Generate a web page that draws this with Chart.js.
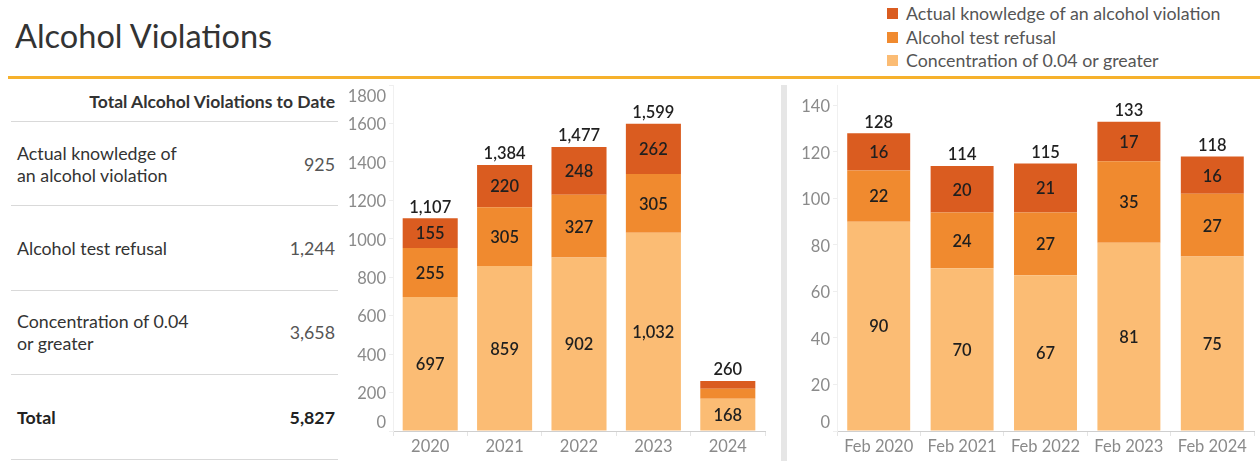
<!DOCTYPE html>
<html>
<head>
<meta charset="utf-8">
<script src="https://cdn.jsdelivr.net/npm/chart.js@4.4.1/dist/chart.umd.min.js"></script>
<style>
  html, body { margin: 0; padding: 0; background: #fff; }
  body { width: 1260px; height: 461px; position: relative; overflow: hidden; font-family: Lato, "Noto Sans", sans-serif; }
  #title { position: absolute; left: 15px; top: 14px; font-size: 32.5px; color: #333; line-height: 44px; white-space: nowrap; }
  #rule { position: absolute; left: 8px; top: 76px; width: 1252px; height: 3px; background: #F6B12C; }
  #legend { position: absolute; left: 886px; top: 3px; }
  .lg { position: absolute; left: 0; white-space: nowrap; font-size: 17.8px; color: #555; height: 20px; line-height: 20px; }
  .lg span.sw { position: absolute; left: 1px; top: 5px; width: 11px; height: 11px; }
  .lg span.tx { position: absolute; left: 20px; top: 0; }
  #table { position: absolute; left: 11px; top: 84px; width: 327px; }
  .hdr { position: absolute; right: 3px; top: 7px; font-weight: bold; font-size: 17.5px; color: #333; white-space: nowrap; }
  .hline { position: absolute; left: 0; width: 327px; height: 1px; background: #d9d9d9; }
  .rl { position: absolute; left: 6px; font-size: 17.8px; color: #333; line-height: 22px; white-space: nowrap; }
  .rv { position: absolute; right: 3px; font-size: 17.8px; color: #555; line-height: 22px; white-space: nowrap; }
  .bold { font-weight: bold; color: #222; }
  #sep { position: absolute; left: 781px; top: 85px; width: 6px; height: 376px; background: #e6e6e6; }
  #c1wrap { position: absolute; left: 340px; top: 80px; width: 430px; height: 381px; }
  #c2wrap { position: absolute; left: 788px; top: 80px; width: 472px; height: 381px; }
</style>
</head>
<body>
<div id="title">Alcohol Violations</div>
<div id="legend"></div>
<div id="rule"></div>
<div id="table"></div>
<div id="sep"></div>
<div id="c1wrap"><canvas id="c1" width="430" height="381"></canvas></div>
<div id="c2wrap"><canvas id="c2" width="472" height="381"></canvas></div>
<script>
// ---------- data ----------
const seriesNames = ["Concentration of 0.04 or greater", "Alcohol test refusal", "Actual knowledge of an alcohol violation"];
const seriesColors = ["#FBBC74", "#F08A2F", "#DA5C20"];
const tableLabels = [["Actual knowledge of", "an alcohol violation"], ["Alcohol test refusal"], ["Concentration of 0.04", "or greater"]];

const yearCategories = ["2020", "2021", "2022", "2023", "2024"];
const yearConcentration = [697, 859, 902, 1032, 168];
const yearRefusal = [255, 305, 327, 305, 52];
const yearKnowledge = [155, 220, 248, 262, 40];

const febCategories = ["Feb 2020", "Feb 2021", "Feb 2022", "Feb 2023", "Feb 2024"];
const febConcentration = [90, 70, 67, 81, 75];
const febRefusal = [22, 24, 27, 35, 27];
const febKnowledge = [16, 20, 21, 17, 16];

const yearTicks = [0, 200, 400, 600, 800, 1000, 1200, 1400, 1600, 1800];
const febTicks = [0, 20, 40, 60, 80, 100, 120, 140];

const fmt = v => v.toLocaleString("en-US");
const sum = a => a.reduce((s, v) => s + v, 0);

// ---------- legend ----------
const legend = document.getElementById("legend");
[2, 1, 0].forEach((si, row) => {
  const d = document.createElement("div");
  d.className = "lg";
  d.style.top = (row * 23.5) + "px";
  d.innerHTML = '<span class="sw" style="background:' + seriesColors[si] + '"></span><span class="tx">' + seriesNames[si] + '</span>';
  legend.appendChild(d);
});

// ---------- table ----------
const table = document.getElementById("table");
const totals = [sum(yearKnowledge), sum(yearRefusal), sum(yearConcentration)];
let html = '<div class="hdr">Total Alcohol Violations to Date</div>';
const lineYs = [37, 121, 206, 290, 375];
lineYs.forEach(y => { html += '<div class="hline" style="top:' + y + 'px"></div>'; });
const rowCenters = [80, 164, 248, 333];
tableLabels.forEach((lines, i) => {
  const c = rowCenters[i];
  const top = c - lines.length * 11;
  html += '<div class="rl" style="top:' + top + 'px">' + lines.join("<br>") + '</div>';
  html += '<div class="rv" style="top:' + (c - 11) + 'px">' + fmt(totals[i]) + '</div>';
});
html += '<div class="rl bold" style="top:' + (rowCenters[3] - 11) + 'px">Total</div>';
html += '<div class="rv bold" style="top:' + (rowCenters[3] - 11) + 'px">' + fmt(sum(totals)) + '</div>';
table.innerHTML = html;

// ---------- charts ----------
Chart.defaults.font.family = "Lato, 'Noto Sans', sans-serif";

const labelPlugin = {
  id: "barLabels",
  afterDatasetsDraw(chart) {
    const ctx = chart.ctx;
    ctx.save();
    ctx.font = "600 16.5px Lato, 'Noto Sans', sans-serif";
    ctx.fillStyle = "#1f1f1f";
    ctx.textAlign = "center";
    ctx.textBaseline = "middle";
    const n = chart.data.datasets.length;
    chart.data.datasets.forEach((ds, di) => {
      const meta = chart.getDatasetMeta(di);
      meta.data.forEach((bar, i) => {
        const p = bar.getProps(["x", "y", "base"], true);
        const h = p.base - p.y;
        if (h >= 20) ctx.fillText(fmt(ds.data[i]), p.x, (p.y + p.base) / 2 + 1);
      });
    });
    const topMeta = chart.getDatasetMeta(n - 1);
    topMeta.data.forEach((bar, i) => {
      const p = bar.getProps(["x", "y"], true);
      let t = 0;
      chart.data.datasets.forEach(ds => { t += ds.data[i]; });
      ctx.fillText(fmt(t), p.x, p.y - 11);
    });
    ctx.restore();
  }
};

function noPad(s) { s.paddingTop = 0; s.paddingBottom = 0; s.paddingLeft = 0; s.paddingRight = 0; }

function makeChart(id, cats, conc, refu, know, ticks, yMax, yWidth, padRight, barPct) {
  const dataArr = [conc, refu, know];
  return new Chart(document.getElementById(id), {
    type: "bar",
    data: {
      labels: cats,
      datasets: dataArr.map((d, i) => ({
        label: seriesNames[i],
        data: d,
        backgroundColor: seriesColors[i],
        borderWidth: 0,
        categoryPercentage: 1,
        barPercentage: barPct
      }))
    },
    options: {
      responsive: false,
      animation: false,
      events: [],
      layout: { autoPadding: false, padding: { top: 5, right: padRight, bottom: 0, left: 0 } },
      plugins: { legend: { display: false }, tooltip: { enabled: false } },
      scales: {
        x: {
          stacked: true,
          afterFit: s => { s.height = 30; noPad(s); },
          border: { display: true, color: "#cfcfcf", width: 1 },
          grid: { display: true, drawOnChartArea: false, drawTicks: true, tickLength: 5, color: "#e4e4e4", offset: true },
          ticks: { color: "#8a8a8a", font: { size: 16.5 }, padding: 1, maxRotation: 0, autoSkip: false }
        },
        y: {
          stacked: true,
          min: 0,
          max: yMax,
          afterFit: s => { s.width = yWidth; noPad(s); },
          afterBuildTicks: s => { s.ticks = ticks.map(v => ({ value: v })); },
          border: { display: true, color: "#f0f0f0", width: 1 },
          grid: { display: true, drawOnChartArea: false, drawTicks: true, tickLength: 4, color: "#eeeeee" },
          ticks: {
            color: "#8a8a8a",
            font: { size: 16.5 },
            padding: 3,
            labelOffset: 1.5,
            autoSkip: false,
            callback: (v) => {
              if (v === ticks[0]) return [String(v), ""];
              if (v >= yMax) return ["", String(v)];
              return String(v);
            }
          }
        }
      }
    },
    plugins: [labelPlugin]
  });
}

makeChart("c1", yearCategories, yearConcentration, yearRefusal, yearKnowledge, yearTicks, 1800, 53, 5, 0.74);
makeChart("c2", febCategories, febConcentration, febRefusal, febKnowledge, febTicks, 148.8, 49, 6, 0.755);
</script>
</body>
</html>
